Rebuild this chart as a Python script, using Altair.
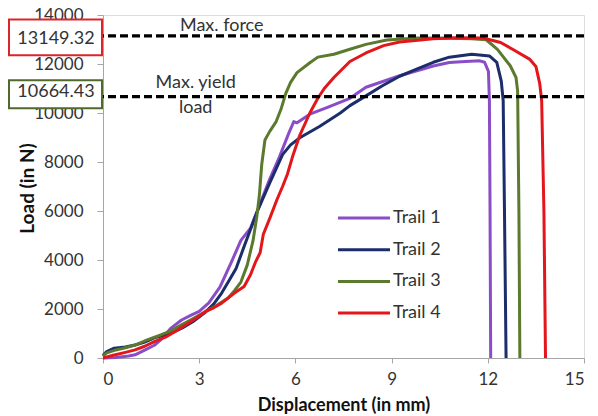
import altair as alt
import pandas as pd

# Load–displacement readings for the four tensile trails
trail1_x = [0.0, 0.4, 0.8, 1.0, 1.3, 1.6, 1.8, 2.1, 2.45, 2.75, 3.0, 3.3, 3.65, 4.0, 4.3, 4.6, 4.9, 5.2, 5.5, 5.8, 5.95, 6.05, 6.45, 7.0, 7.7, 8.2, 9.25, 10.3, 10.8, 11.3, 11.75, 11.9, 12.02, 12.05, 12.07, 12.09]
trail1_y = [0, 20, 80, 130, 320, 520, 740, 1200, 1550, 1750, 1900, 2250, 2900, 3900, 4800, 5300, 6300, 7300, 8200, 9200, 9650, 9600, 9950, 10230, 10600, 11050, 11520, 11920, 12060, 12100, 12130, 12070, 11700, 10500, 6000, 0]

trail2_x = [0.0, 0.1, 0.35, 0.7, 1.0, 1.3, 1.6, 1.95, 2.25, 2.5, 2.8, 3.2, 3.45, 3.7, 3.95, 4.15, 4.4, 4.8, 5.2, 5.6, 5.85, 6.15, 6.75, 7.4, 7.7, 8.2, 8.7, 9.25, 9.8, 10.3, 10.8, 11.5, 12.05, 12.28, 12.42, 12.48, 12.52, 12.57]
trail2_y = [100, 250, 400, 450, 530, 650, 820, 950, 1080, 1250, 1480, 1880, 2200, 2650, 3200, 3650, 4550, 5950, 7150, 8300, 8700, 9000, 9450, 10000, 10300, 10700, 11100, 11500, 11800, 12070, 12280, 12400, 12330, 12070, 11300, 10500, 6000, 0]

trail3_x = [0.0, 0.1, 0.4, 0.7, 1.0, 1.4, 1.8, 2.1, 2.45, 2.8, 3.2, 3.55, 3.9, 4.1, 4.3, 4.5, 4.68, 4.8, 4.88, 4.95, 5.05, 5.2, 5.4, 5.55, 5.7, 5.85, 6.05, 6.45, 6.7, 7.2, 7.7, 8.2, 8.85, 9.8, 10.8, 11.5, 11.95, 12.3, 12.7, 12.88, 12.93, 12.97, 13.0]
trail3_y = [80, 200, 330, 420, 530, 750, 940, 1100, 1350, 1600, 1900, 2150, 2450, 2750, 3100, 3800, 4800, 5800, 6700, 7900, 8900, 9250, 9650, 10150, 10800, 11250, 11650, 12050, 12280, 12400, 12600, 12800, 12980, 13060, 13050, 13030, 12990, 12600, 11930, 11450, 10900, 6000, 0]

trail4_x = [0.0, 0.35, 0.7, 1.0, 1.3, 1.6, 1.95, 2.25, 2.55, 2.9, 3.2, 3.45, 3.7, 4.1, 4.4, 4.6, 4.75, 4.9, 5.0, 5.2, 5.42, 5.6, 5.75, 5.93, 6.14, 6.45, 6.7, 6.9, 7.2, 7.7, 8.2, 8.75, 9.25, 10.3, 11.0, 11.85, 12.4, 12.8, 13.3, 13.5, 13.62, 13.68, 13.75, 13.8]
trail4_y = [0, 120, 230, 330, 480, 670, 850, 1080, 1330, 1620, 1900, 2050, 2240, 2650, 2920, 3400, 3900, 4300, 5050, 5700, 6450, 7000, 7500, 8300, 9100, 10000, 10600, 11000, 11450, 12100, 12450, 12750, 12900, 13030, 13070, 13060, 12880, 12580, 12200, 11900, 11200, 10500, 6000, 0]

trail_names = ["Trail 1", "Trail 2", "Trail 3", "Trail 4"]
trail_colors = ["#8a4dc8", "#1c2d6b", "#5b7a2e", "#e3171b"]

ref_names = ["Max. force", "Max. yield load"]
ref_values = [13149.32, 10664.43]
ref_colors = ["#d9262a", "#4f6a2a"]

x_ticks = [0, 3, 6, 9, 12, 15]
y_ticks = [0, 2000, 4000, 6000, 8000, 10000, 12000, 14000]

FONT = "Lato"
TEXT = "#333333"
AXIS = "#a6a6a6"

rows = []
for name, xs, ys in zip(trail_names,
                        [trail1_x, trail2_x, trail3_x, trail4_x],
                        [trail1_y, trail2_y, trail3_y, trail4_y]):
    for i, (xv, yv) in enumerate(zip(xs, ys)):
        rows.append({"trail": name, "idx": i, "disp": xv, "load": yv})
curves = pd.DataFrame(rows)
refs = pd.DataFrame({"name": ref_names, "value": ref_values})

x_scale = alt.Scale(domain=[0, 15], nice=False)
y_scale = alt.Scale(domain=[0, 14000], nice=False)

lines = alt.Chart(curves).mark_line(strokeWidth=3, strokeJoin="round").encode(
    x=alt.X("disp:Q", scale=x_scale,
            axis=alt.Axis(values=x_ticks, title="Displacement (in mm)", grid=False,
                          domainColor=AXIS, tickColor=AXIS, tickSize=5,
                          labelFont=FONT, labelFontSize=17, labelColor=TEXT, labelPadding=8,
                          titleFont=FONT, titleFontSize=18, titleFontWeight="bold",
                          titleColor="#111111", titleY=47, titleBaseline="middle")),
    y=alt.Y("load:Q", scale=y_scale,
            axis=alt.Axis(values=y_ticks, format="d", title="Load (in N)", grid=False,
                          domainColor=AXIS, tickColor=AXIS, tickSize=6,
                          labelFont=FONT, labelFontSize=17, labelColor=TEXT, labelPadding=14,
                          titleFont=FONT, titleFontSize=19, titleFontWeight="bold",
                          titleColor="#111111", titleX=-76, titleY=173,
                          titleAlign="center", titleBaseline="middle")),
    color=alt.Color("trail:N", scale=alt.Scale(domain=trail_names, range=trail_colors), legend=None),
    order="idx:Q",
)

ref_lines = alt.Chart(refs).mark_rule(strokeDash=[8, 4], strokeWidth=3.2, color="black").encode(
    y=alt.Y("value:Q", scale=y_scale)
)

force_text = alt.Chart(refs).transform_filter(alt.datum.name == "Max. force").mark_text(
    font=FONT, fontSize=18, color=TEXT, align="left", baseline="bottom", dy=-1
).encode(x=alt.datum(2.4), y="value:Q", text=alt.value("Max. force"))

yield_base = alt.Chart(refs).transform_filter(alt.datum.name == "Max. yield load")
yield_top = yield_base.mark_text(
    font=FONT, fontSize=18, color=TEXT, align="center", baseline="bottom", dy=-5
).encode(x=alt.datum(2.89), y="value:Q", text=alt.value("Max. yield"))
yield_bottom = yield_base.mark_text(
    font=FONT, fontSize=18, color=TEXT, align="center", baseline="top", dy=2
).encode(x=alt.datum(2.89), y="value:Q", text=alt.value("load"))

# Value call-out boxes left of the axis
HALF = 670
box_layers = []
for name, color, shift in zip(ref_names, ref_colors, [3, -5]):
    sub = alt.Chart(refs).transform_filter(alt.datum.name == name).transform_calculate(
        lo=alt.datum.value - HALF, hi=alt.datum.value + HALF,
        label=alt.expr.format(alt.datum.value, ".2f"),
    )
    box_layers.append(sub.mark_rect(fill="white", stroke=color, strokeWidth=2, yOffset=shift).encode(
        x=alt.value(-94), x2=alt.value(-1), y="lo:Q", y2="hi:Q"))
    box_layers.append(sub.mark_text(font=FONT, fontSize=18, color=TEXT, yOffset=shift).encode(
        x=alt.value(-47), y="value:Q", text="label:N"))

# Series key inside the plot
legend_layers = []
for i, (name, color) in enumerate(zip(trail_names, trail_colors)):
    ypix = 203 + 31.7 * i
    key = alt.Chart(pd.DataFrame({"trail": [name]}))
    legend_layers.append(key.mark_rule(strokeWidth=3, color=color).encode(
        x=alt.value(235), x2=alt.value(287), y=alt.value(ypix)))
    legend_layers.append(key.mark_text(font=FONT, fontSize=18, color=TEXT, align="left",
                                       baseline="middle").encode(
        x=alt.value(290), y=alt.value(ypix), text="trail:N"))

chart = alt.layer(lines, ref_lines, force_text, yield_top, yield_bottom,
                  *box_layers, *legend_layers).properties(
    width=481, height=343,
    autosize=alt.AutoSizeParams(type="none"),
    padding={"left": 103, "top": 15, "right": 14, "bottom": 58},
).configure_view(stroke=None).configure(background="white")

chart.save("out.html", embed_options={"renderer": "svg", "actions": False})
